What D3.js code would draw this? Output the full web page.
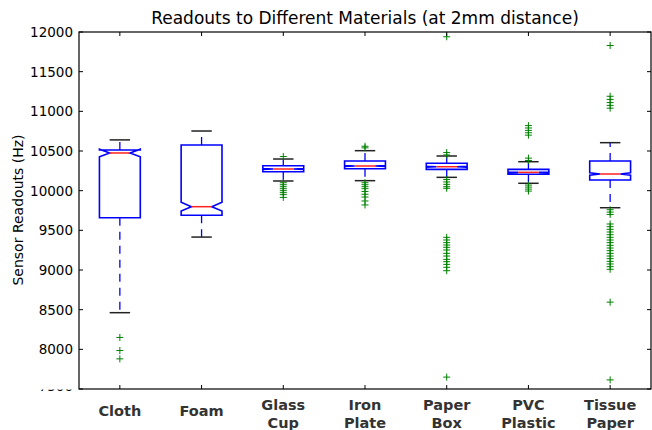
<!DOCTYPE html>
<html>
<head>
<meta charset="utf-8">
<script src="https://cdn.jsdelivr.net/npm/d3@7"></script>
<style>
  html, body { margin: 0; padding: 0; background: #fff; }
  svg { display: block; font-family: "DejaVu Sans", sans-serif; }
</style>
</head>
<body>
<svg id="chart" width="652" height="430"></svg>
<script>
// Material categories (multi-line tick labels)
const materials = [["Cloth"], ["Foam"], ["Glass", "Cup"], ["Iron", "Plate"], ["Paper", "Box"], ["PVC", "Plastic"], ["Tissue", "Paper"]];

// Box statistics per material (Hz)
const whiskerLo = [8462, 9415, 10122, 10126, 10168, 10093, 9785];
const q1        = [9659, 9690, 10239, 10277, 10269, 10206, 10134];
const medians   = [10475, 9798, 10273, 10311, 10302, 10231, 10210];
const q3        = [10513, 10576, 10315, 10374, 10345, 10269, 10374];
const whiskerHi = [10640, 10752, 10399, 10504, 10437, 10365, 10605];
// Notch confidence interval around each median
const notchLo   = [10428, 9743, 10267, 10305, 10297, 10227, 10195];
const notchHi   = [10522, 9853, 10279, 10317, 10307, 10235, 10225];

// Flier points beyond the whiskers
const fliers = [
  [8150, 7985, 7880],
  [],
  [10430, 10100, 10075, 10050, 10025, 10000, 9975, 9950, 9915],
  [10560, 10540, 10100, 10075, 10050, 10025, 9990, 9955, 9920, 9870, 9820],
  [11940, 10480, 10450, 10140, 10110, 10080, 10050, 10030,
   9412, 9378, 9345, 9315, 9286, 9252, 9210, 9176, 9134, 9105, 9071, 9034, 8991, 7650],
  [10820, 10790, 10760, 10730, 10700, 10410, 10380, 10070, 10045, 10020, 9995],
  [11830, 11190, 11150, 11110, 11075, 11040, 9760, 9730, 9700,
   9580, 9546, 9513, 9479, 9445, 9412, 9378, 9345, 9311, 9277, 9244, 9210,
   9176, 9143, 9109, 9076, 9042, 9009, 8595, 7615]
];

const yTicks = [7500, 8000, 8500, 9000, 9500, 10000, 10500, 11000, 11500, 12000];

const chartTitle = "Readouts to Different Materials (at 2mm distance)";
const yTitle = "Sensor Readouts (Hz)";

// Plot area
const plotLeft = 79, plotRight = 651, plotTop = 32, plotBottom = 389;

const svg = d3.select("#chart");

const x = d3.scaleLinear().domain([0.5, materials.length + 0.5]).range([plotLeft, plotRight]);
const y = d3.scaleLinear().domain([7500, 12000]).range([plotBottom, plotTop]);

const boxW = 0.5;   // box width in position units

const plot = svg.append("g");

// Draw each box
materials.forEach((m, i) => {
  const pos = i + 1;
  const xl = x(pos - boxW / 2), xr = x(pos + boxW / 2);
  const cl = x(pos - boxW / 4), cr = x(pos + boxW / 4);
  const xc = x(pos);

  // whiskers (dashed blue), drawn outward from the box
  [[q1[i], whiskerLo[i]], [q3[i], whiskerHi[i]]].forEach(([a, b]) => {
    plot.append("line")
      .attr("x1", xc).attr("x2", xc)
      .attr("y1", y(a)).attr("y2", y(b))
      .attr("stroke", "#0000ff").attr("stroke-width", 1.3)
      .attr("stroke-dasharray", "8,6");
  });

  // caps (black)
  [whiskerLo[i], whiskerHi[i]].forEach(v => {
    plot.append("line")
      .attr("x1", cl).attr("x2", cr)
      .attr("y1", y(v)).attr("y2", y(v))
      .attr("stroke", "#222").attr("stroke-width", 1.5);
  });

  // notched box outline
  const pts = [
    [xl, y(q1[i])], [xl, y(notchLo[i])], [cl, y(medians[i])], [xl, y(notchHi[i])], [xl, y(q3[i])],
    [xr, y(q3[i])], [xr, y(notchHi[i])], [cr, y(medians[i])], [xr, y(notchLo[i])], [xr, y(q1[i])]
  ];
  plot.append("path")
    .attr("d", d3.line()(pts) + "Z")
    .attr("fill", "none")
    .attr("stroke", "#0000ff").attr("stroke-width", 1.6)
    .attr("stroke-linejoin", "miter");

  // median (red)
  plot.append("line")
    .attr("x1", cl).attr("x2", cr)
    .attr("y1", y(medians[i])).attr("y2", y(medians[i]))
    .attr("stroke", "#ff2020").attr("stroke-width", 1.5);

  // fliers (green plus markers)
  const fg = plot.append("g").attr("stroke", "#008000").attr("stroke-width", 1);
  fliers[i].forEach(v => {
    const py = y(v);
    fg.append("path")
      .attr("d", `M${xc - 3.5},${py}H${xc + 3.5}M${xc},${py - 3.5}V${py + 3.5}`);
  });
});

// Axes frame
svg.append("rect")
  .attr("x", plotLeft).attr("y", plotTop)
  .attr("width", plotRight - plotLeft).attr("height", plotBottom - plotTop)
  .attr("fill", "none").attr("stroke", "#000").attr("stroke-width", 1.2);

// Y ticks (inward, both sides)
const tickLen = 4;
const axG = svg.append("g").attr("stroke", "#000").attr("stroke-width", 1);
yTicks.forEach(t => {
  axG.append("line").attr("x1", plotLeft).attr("x2", plotLeft + tickLen).attr("y1", y(t)).attr("y2", y(t));
  axG.append("line").attr("x1", plotRight).attr("x2", plotRight - tickLen).attr("y1", y(t)).attr("y2", y(t));
});
// X ticks (inward, top and bottom)
materials.forEach((m, i) => {
  const xc = x(i + 1);
  axG.append("line").attr("x1", xc).attr("x2", xc).attr("y1", plotBottom).attr("y2", plotBottom - tickLen);
  axG.append("line").attr("x1", xc).attr("x2", xc).attr("y1", plotTop).attr("y2", plotTop + tickLen);
});

// Y tick labels; only a sliver of the lowest label shows under the axis
svg.append("clipPath").attr("id", "lowClip")
  .append("rect").attr("x", 0).attr("y", 389.6).attr("width", 78).attr("height", 1.4);

yTicks.forEach(t => {
  const txt = svg.append("text")
    .attr("x", 73)
    .attr("text-anchor", "end")
    .attr("font-size", 13.5)
    .attr("fill", "#000")
    .text(t);
  if (t === 7500) {
    txt.attr("y", 390.6).attr("clip-path", "url(#lowClip)");
  } else {
    txt.attr("y", y(t)).attr("dy", "0.36em");
  }
});

// X tick labels (bold, multi-line)
materials.forEach((lines, i) => {
  const xc = x(i + 1);
  const t = svg.append("text")
    .attr("text-anchor", "middle")
    .attr("font-size", 14.5)
    .attr("font-weight", "bold")
    .attr("fill", "#333");
  const base = lines.length === 1 ? 416 : 410;
  lines.forEach((ln, j) => {
    t.append("tspan").attr("x", xc).attr("y", base + j * 18).text(ln);
  });
});

// Title
svg.append("text")
  .attr("x", (plotLeft + plotRight) / 2).attr("y", 24)
  .attr("text-anchor", "middle")
  .attr("font-size", 17)
  .attr("fill", "#000")
  .text(chartTitle);

// Y axis title
svg.append("text")
  .attr("transform", `translate(23, 210) rotate(-90)`)
  .attr("text-anchor", "middle")
  .attr("font-size", 14)
  .attr("fill", "#000")
  .text(yTitle);
</script>
</body>
</html>
